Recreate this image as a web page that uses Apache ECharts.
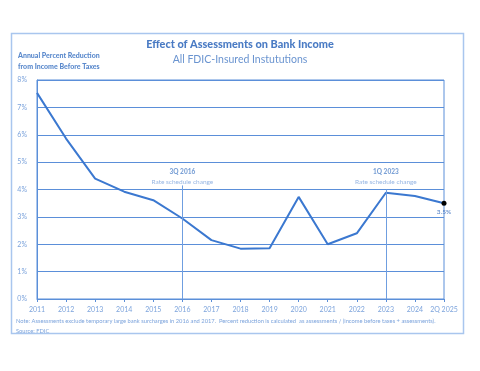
<!DOCTYPE html>
<html><head><meta charset="utf-8">
<script src="https://cdn.jsdelivr.net/npm/echarts@6/dist/echarts.min.js"></script>
<style>html,body{margin:0;padding:0;background:#fff}#c{width:480px;height:371px}</style>
</head><body><div id="c"></div>
<script>
const categories = ['2011','2012','2013','2014','2015','2016','2017','2018','2019','2020','2021','2022','2023','2024','2Q 2025'];
const values = [7.53, 5.86, 4.40, 3.92, 3.61, 2.94, 2.15, 1.84, 1.85, 3.73, 2.00, 2.40, 3.88, 3.76, 3.5];
const yTicks = [0,1,2,3,4,5,6,7,8];
const markers = [
  {cat:'2016', title:'3Q 2016', text:'Rate schedule change', top:4.15},
  {cat:'2023', title:'1Q 2023', text:'Rate schedule change', top:4.0}
];
const markerLabelAt = 4.1;
const FONT = 'Lato';
const LBL = '#7da4dc';
const chart = echarts.init(document.getElementById('c'));
chart.setOption({
  animation:false,
  textStyle:{fontFamily:FONT},
  graphic:[
    {type:'rect', shape:{x:11.5,y:33.5,width:452,height:300}, style:{fill:'none',stroke:'#a9c6ee',lineWidth:1.5}},
    {type:'text', left:'center', top:39, style:{text:'Effect of Assessments on Bank Income', font:'900 10.9px '+FONT, fill:'#4a7bc4'}},
    {type:'text', left:'center', top:54, style:{text:'All FDIC-Insured Instututions', font:'10.5px '+FONT, fill:'#6a94d0'}},
    {type:'text', left:18, top:50, style:{text:'Annual Percent Reduction\nfrom Income Before Taxes', font:'900 7px '+FONT, fill:'#5a89cc', lineHeight:11}},
    {type:'text', left:16, top:316, style:{text:'Note: Assessments exclude temporary large bank surcharges in 2016 and 2017.  Percent reduction is calculated  as assessments / (income before taxes + assessments).\nSource: FDIC', font:'5.75px '+FONT, fill:'#7da4dc', lineHeight:10}}
  ],
  grid:{left:37, right:36, top:80, bottom:72, show:true, borderColor:'#5b8fd9', borderWidth:1},
  xAxis:{type:'category', data:categories, boundaryGap:false,
    axisLine:{lineStyle:{color:'#5b8fd9'}},
    axisTick:{show:true, length:3, lineStyle:{color:'#5b8fd9'}},
    axisLabel:{color:LBL, fontSize:7, margin:7, interval:0}},
  yAxis:{type:'value', min:0, max:8, interval:1,
    axisLine:{show:true, lineStyle:{color:'#5b8fd9'}},
    axisTick:{show:false},
    splitLine:{lineStyle:{color:'#5b8fd9', width:1}},
    axisLabel:{color:LBL, fontSize:7, margin:10, formatter:v=>v+'%'}},
  series:[{
    type:'line', data:values.map((v,i)=> i===values.length-1 ? {value:v, symbol:'circle', symbolSize:5, itemStyle:{color:'#000'},
      label:{show:true, position:'bottom', formatter:'3.5%', color:'#4a7bc4', fontSize:6.5, distance:3}} : v),
    symbol:'none', showSymbol:true,
    lineStyle:{color:'#3b78d0', width:2},
    markLine:{symbol:'none', silent:true,
      lineStyle:{color:'#6f9ee0', width:1, type:'solid'},
      label:{show:false},
      data: markers.map(m=>[{coord:[m.cat, m.top]},{coord:[m.cat, 0]}])
    },
    z:3
  },{
    type:'scatter', data:markers.map(m=>[m.cat, markerLabelAt]), symbolSize:0,
    label:{show:true, position:'top', distance:0, formatter:(p)=>{const m=markers[p.dataIndex]; return '{t|'+m.title+'}\n{s|'+m.text+'}';},
      rich:{t:{fontWeight:900, fontSize:6.5, color:'#5a89cc', lineHeight:10, align:'center'}, s:{fontSize:6.5, color:'#7da4dc', lineHeight:10, align:'center'}}}
  }]
});
</script></body></html>
